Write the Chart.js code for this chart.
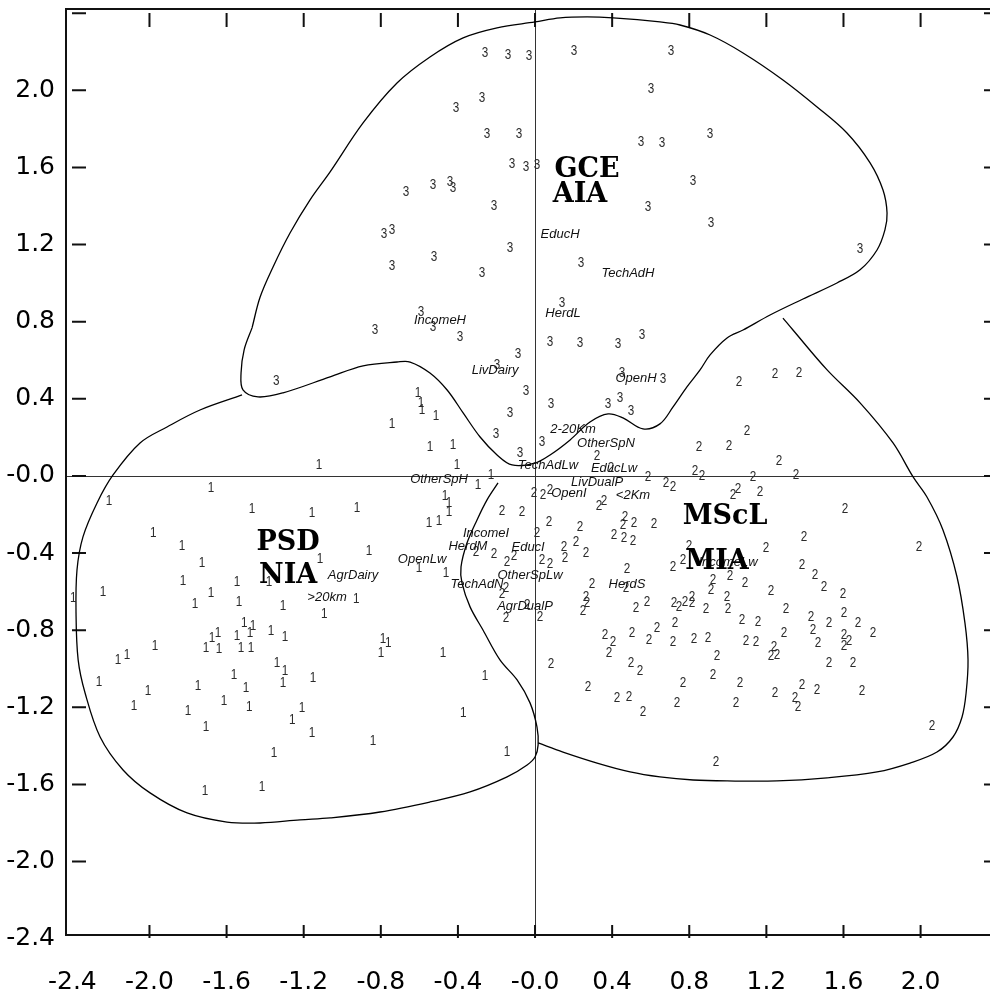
<!DOCTYPE html>
<html>
<head>
<meta charset="utf-8">
<script src="https://cdn.jsdelivr.net/npm/chart.js@4.4.0/dist/chart.umd.min.js"></script>
<style>
html, body { margin: 0; padding: 0; background: #fff; overflow: hidden; }
canvas { display: block; }
</style>
</head>
<body>
<canvas id="biplot" width="990" height="994"></canvas>
<script>
// axis ranges and ticks
const xMin = -2.433, xMax = 2.36;
const yMin = -2.381, yMax = 2.422;
const xTickValues = [-2.4, -2.0, -1.6, -1.2, -0.8, -0.4, 0, 0.4, 0.8, 1.2, 1.6, 2.0];
const xTickLabels = ['-2.4', '-2.0', '-1.6', '-1.2', '-0.8', '-0.4', '-0.0', '0.4', '0.8', '1.2', '1.6', '2.0'];
const yTickValues = [-2.4, -2.0, -1.6, -1.2, -0.8, -0.4, 0, 0.4, 0.8, 1.2, 1.6, 2.0, 2.4];
const yTickLabels = ['-2.4', '-2.0', '-1.6', '-1.2', '-0.8', '-0.4', '-0.0', '0.4', '0.8', '1.2', '1.6', '2.0', ''];
const xTickMarks = [-2.0, -1.6, -1.2, -0.8, -0.4, 0, 0.4, 0.8, 1.2, 1.6, 2.0];
const yTickMarks = [-2.0, -1.6, -1.2, -0.8, -0.4, 0, 0.4, 0.8, 1.2, 1.6, 2.0, 2.4];

// group 3 (GCE / AIA)
const group3Points = [
  [-0.259,2.194],[-0.140,2.184],[-0.031,2.179],[0.202,2.204],[0.705,2.204],[-0.275,1.961],[-0.410,1.909],
  [0.602,2.007],[-0.249,1.774],[-0.083,1.774],[0.550,1.732],[0.659,1.727],[0.908,1.774],[-0.119,1.618],
  [-0.047,1.603],[0.010,1.613],[0.820,1.530],[-0.669,1.473],[-0.529,1.509],[-0.441,1.525],[-0.425,1.494],
  [-0.213,1.400],[0.586,1.395],[0.913,1.312],[-0.783,1.255],[-0.742,1.276],[-0.130,1.183],[1.686,1.177],
  [-0.742,1.089],[-0.524,1.136],[0.239,1.105],[-0.275,1.053],[0.140,0.897],[-0.591,0.851],[-0.830,0.757],
  [-0.529,0.773],[-0.389,0.721],[0.078,0.695],[0.233,0.690],[0.431,0.685],[0.555,0.731],[-0.088,0.633],
  [-0.197,0.576],[0.451,0.534],[0.664,0.503],[-1.343,0.493],[-0.047,0.441],[0.083,0.373],[0.379,0.373],
  [0.441,0.405],[0.498,0.337],[-0.130,0.327],[-0.202,0.218],[0.036,0.176],[-0.078,0.119]
];

// group 1 (PSD / NIA)
const group1Points = [
  [-1.120,0.057],[-1.681,-0.062],[-2.210,-0.130],[-1.468,-0.171],[-1.157,-0.192],[-1.981,-0.296],[-1.831,-0.363],
  [-1.727,-0.451],[-1.115,-0.431],[-1.826,-0.545],[-1.546,-0.550],[-1.380,-0.550],[-2.241,-0.602],[-2.396,-0.633],
  [-1.681,-0.607],[-1.764,-0.664],[-1.535,-0.654],[-1.307,-0.674],[-1.094,-0.716],[-0.928,-0.638],[-1.509,-0.762],
  [-1.463,-0.778],[-1.369,-0.804],[-1.297,-0.835],[-1.546,-0.830],[-1.478,-0.814],[-1.675,-0.840],[-1.644,-0.814],
  [-1.971,-0.882],[-1.707,-0.892],[-1.639,-0.897],[-1.525,-0.892],[-1.473,-0.892],[-2.163,-0.954],[-2.116,-0.928],
  [-0.788,-0.845],[-0.762,-0.866],[-0.799,-0.918],[-2.262,-1.069],[-2.007,-1.115],[-1.748,-1.089],[-1.561,-1.032],
  [-1.338,-0.970],[-1.297,-1.011],[-1.307,-1.074],[-1.152,-1.048],[-1.499,-1.100],[-2.080,-1.193],[-1.800,-1.219],
  [-1.613,-1.167],[-1.483,-1.198],[-1.209,-1.203],[-1.260,-1.266],[-1.707,-1.302],[-1.157,-1.333],[-0.840,-1.375],
  [-1.354,-1.437],[-1.712,-1.634],[-1.416,-1.613],
  [-0.607,0.431],[-0.591,0.379],[-0.586,0.342],[-0.514,0.311],[-0.742,0.270],[-0.545,0.150],[-0.425,0.161],
  [-0.405,0.057],[-0.228,0.005],[-0.296,-0.047],[-0.467,-0.104],[-0.446,-0.140],[-0.446,-0.187],[-0.923,-0.166],
  [-0.550,-0.244],[-0.498,-0.233],[-0.861,-0.389],[-0.602,-0.477],[-0.462,-0.503],[-0.477,-0.918],[-0.259,-1.037],
  [-0.373,-1.229],[-0.145,-1.432]
];

// group 2 (MScL / MIA)
const group2Points = [
  [1.058,0.488],[1.245,0.529],[1.369,0.534],[1.100,0.233],[0.851,0.150],[1.006,0.156],[0.322,0.104],[1.266,0.078],
  [0.394,0.041],[0.586,-0.005],[0.830,0.026],[0.866,0.000],[1.131,-0.005],[1.354,0.005],[0.679,-0.036],[0.716,-0.057],
  [-0.005,-0.088],[0.041,-0.099],[0.078,-0.073],[0.332,-0.156],[0.358,-0.130],[1.027,-0.099],[1.053,-0.067],
  [1.167,-0.083],[1.608,-0.171],[-0.171,-0.182],[-0.067,-0.187],[0.073,-0.239],[0.233,-0.265],[0.467,-0.213],
  [0.456,-0.254],[0.514,-0.244],[0.617,-0.249],[0.010,-0.296],[0.410,-0.306],[0.462,-0.322],[0.508,-0.337],
  [1.395,-0.316],[0.213,-0.342],[0.150,-0.368],[0.156,-0.425],[0.265,-0.399],[0.799,-0.363],[1.198,-0.373],
  [1.992,-0.368],[-0.306,-0.394],[-0.213,-0.405],[-0.109,-0.415],[-0.145,-0.446],[0.036,-0.436],[0.078,-0.456],
  [0.768,-0.436],[0.716,-0.472],[1.385,-0.462],[0.477,-0.482],[1.011,-0.519],[1.452,-0.514],[0.923,-0.539],
  [0.913,-0.591],[1.089,-0.555],[0.296,-0.560],[0.472,-0.581],[1.499,-0.576],[1.598,-0.612],[1.224,-0.596],
  [-0.150,-0.581],[-0.171,-0.612],[0.265,-0.628],[0.270,-0.659],[0.249,-0.700],[-0.041,-0.669],[0.721,-0.659],
  [0.747,-0.679],[0.778,-0.654],[0.814,-0.628],[0.814,-0.659],[0.887,-0.690],[0.996,-0.628],[1.001,-0.690],
  [0.581,-0.654],[0.524,-0.685],[1.302,-0.690],[-0.150,-0.737],[0.026,-0.731],[1.603,-0.711],[1.432,-0.731],
  [1.442,-0.799],[1.525,-0.762],[1.675,-0.762],[0.726,-0.762],[1.074,-0.747],[1.157,-0.757],[0.633,-0.788],
  [0.591,-0.851],[0.503,-0.814],[0.363,-0.825],[0.405,-0.861],[0.384,-0.918],[1.753,-0.814],[1.292,-0.814],
  [0.716,-0.861],[0.825,-0.845],[0.897,-0.840],[1.094,-0.856],[1.146,-0.861],[1.468,-0.866],[1.603,-0.825],
  [1.629,-0.856],[1.603,-0.882],[0.944,-0.934],[1.240,-0.887],[1.224,-0.934],[1.255,-0.928],[1.525,-0.970],
  [1.649,-0.970],[0.498,-0.970],[0.545,-1.011],[0.083,-0.975],[0.923,-1.032],[0.768,-1.074],[1.063,-1.074],
  [1.385,-1.084],[1.463,-1.110],[1.245,-1.126],[1.696,-1.115],[1.348,-1.151],[1.364,-1.198],[0.275,-1.094],
  [0.425,-1.151],[0.488,-1.146],[0.560,-1.224],[0.736,-1.177],[1.043,-1.177],[2.059,-1.297],[0.939,-1.483]
];

// variable labels
const variableNames = ['EducH','TechAdH','HerdL','IncomeH','LivDairy','OpenH','2-20Km','OtherSpN','TechAdLw',
  'EducLw','OtherSpH','LivDualP','OpenI','<2Km','IncomeI','HerdM','EducI','OpenLw','OtherSpLw','TechAdN',
  'AgrDualP','AgrDairy','>20km','HerdS','IncomeLw'];
const variablePoints = [
  [0.130,1.255],[0.482,1.053],[0.145,0.845],[-0.493,0.809],[-0.207,0.545],[0.524,0.508],[0.197,0.239],
  [0.368,0.171],[0.067,0.057],[0.410,0.041],[-0.498,-0.016],[0.322,-0.031],[0.176,-0.093],[0.508,-0.099],
  [-0.254,-0.296],[-0.348,-0.363],[-0.036,-0.368],[-0.586,-0.431],[-0.026,-0.514],[-0.301,-0.565],
  [-0.052,-0.679],[-0.944,-0.514],[-1.079,-0.628],[0.477,-0.560],[1.001,-0.446]
];

// cluster names
const regionNames = ['GCE','AIA','PSD','NIA','MScL','MIA'];
const regionPoints = [[0.270,1.587],[0.233,1.457],[-1.281,-0.348],[-1.281,-0.519],[0.986,-0.213],[0.944,-0.446]];

// boundaries
const contourA = [
  [-1.468,0.768],[-1.509,0.654],[-1.525,0.534],[-1.515,0.446],[-1.437,0.410],[-1.307,0.431],[-1.063,0.514],
  [-0.892,0.571],[-0.716,0.591],[-0.648,0.591],[-0.545,0.534],[-0.456,0.446],[-0.373,0.327],[-0.285,0.202],
  [-0.197,0.109],[-0.119,0.057],[0,0.067],[0.078,0.109],[0.182,0.187],[0.285,0.280],[0.379,0.322],[0.456,0.301],
  [0.560,0.244],[0.648,0.270],[0.716,0.358],[0.788,0.462],[0.856,0.550],[0.908,0.628],[0.996,0.716],[1.079,0.757],
  [1.219,0.835],[1.390,0.918],[1.566,1.001],[1.686,1.069],[1.774,1.172],[1.815,1.276],[1.826,1.364],[1.805,1.483],
  [1.738,1.624],[1.618,1.779],[1.463,1.914],[1.286,2.054],[1.079,2.194],[0.908,2.287],[0.752,2.339],[0.648,2.355],
  [0.405,2.376],[0.270,2.381],[0.130,2.376],[0,2.355],[-0.197,2.324],[-0.373,2.272],[-0.545,2.173],[-0.716,2.038],
  [-0.892,1.831],[-1.063,1.577],[-1.167,1.432],[-1.271,1.260],[-1.359,1.084],[-1.426,0.928],[-1.468,0.768]
];
const contourB = [
  [-1.520,0.420],[-1.738,0.342],[-1.909,0.254],[-2.049,0.171],[-2.189,0.005],[-2.272,-0.140],[-2.345,-0.316],
  [-2.376,-0.488],[-2.381,-0.711],[-2.370,-0.954],[-2.334,-1.126],[-2.256,-1.354],[-2.137,-1.525],[-1.997,-1.644],
  [-1.805,-1.748],[-1.598,-1.795],[-1.426,-1.800],[-1.219,-1.784],[-1.063,-1.774],[-0.804,-1.743],[-0.545,-1.691],
  [-0.337,-1.639],[-0.145,-1.561],[-0.041,-1.499],[0,-1.458],[0.016,-1.395],[0.010,-1.302],[-0.026,-1.177],
  [-0.093,-1.058],[-0.182,-0.954],[-0.270,-0.799],[-0.337,-0.679],[-0.379,-0.555],[-0.384,-0.472],[-0.353,-0.348],
  [-0.301,-0.228],[-0.249,-0.124],[-0.192,-0.036]
];
const contourC = [
  [0.016,-1.385],[0.145,-1.432],[0.322,-1.489],[0.493,-1.535],[0.648,-1.561],[0.820,-1.577],[0.996,-1.582],
  [1.255,-1.582],[1.515,-1.566],[1.774,-1.535],[1.945,-1.489],[2.085,-1.432],[2.168,-1.354],[2.215,-1.250],
  [2.236,-1.126],[2.246,-0.954],[2.230,-0.762],[2.189,-0.524],[2.116,-0.280],[2.033,-0.109],[1.961,-0.005],
  [1.857,0.171],[1.686,0.379],[1.515,0.550],[1.338,0.757],[1.286,0.819]
];

const toXY = arr => arr.map(p => ({ x: p[0], y: p[1] }));

function contourSet(points) {
    return {
        type: 'line',
        data: toXY(points),
        borderColor: '#000',
        borderWidth: 1.3,
        pointRadius: 0,
        tension: 0.35,
        fill: false
    };
}

function textSet(points, marker) {
    return { data: toXY(points), pointRadius: 0, pointHoverRadius: 0, marker: marker };
}

// frame, cross lines and inner tick marks
const framePlugin = {
    id: 'frame',
    beforeDatasetsDraw(chart) {
        const { ctx, chartArea: a, scales: { x, y } } = chart;
        ctx.save();
        ctx.strokeStyle = '#333';
        ctx.lineWidth = 1;
        const x0 = Math.round(x.getPixelForValue(0)) + 0.5;
        const y0 = Math.round(y.getPixelForValue(0)) + 0.5;
        ctx.beginPath();
        ctx.moveTo(x0, a.top); ctx.lineTo(x0, a.bottom);
        ctx.moveTo(a.left, y0); ctx.lineTo(a.right, y0);
        ctx.stroke();

        ctx.strokeStyle = '#111';
        ctx.lineWidth = 2;
        ctx.beginPath();
        ctx.moveTo(a.right, a.top); ctx.lineTo(a.left, a.top);
        ctx.lineTo(a.left, a.bottom); ctx.lineTo(a.right, a.bottom);
        xTickMarks.forEach(v => {
            const p = x.getPixelForValue(v);
            ctx.moveTo(p, a.bottom + 3); ctx.lineTo(p, a.bottom - 10);
            ctx.moveTo(p, a.top + 4); ctx.lineTo(p, a.top + 18);
        });
        yTickMarks.forEach(v => {
            const p = y.getPixelForValue(v);
            ctx.moveTo(a.left + 6, p); ctx.lineTo(a.left + 20, p);
            ctx.moveTo(a.right - 6, p); ctx.lineTo(a.right, p);
        });
        ctx.stroke();
        ctx.restore();
    }
};

// draws the digits / names at each element of the text datasets
const textPlugin = {
    id: 'textMarks',
    afterDatasetsDraw(chart) {
        const ctx = chart.ctx;
        chart.data.datasets.forEach((ds, i) => {
            if (!ds.marker) return;
            const m = ds.marker;
            const meta = chart.getDatasetMeta(i);
            ctx.save();
            ctx.font = m.font;
            ctx.fillStyle = m.color;
            ctx.textAlign = 'center';
            ctx.textBaseline = 'middle';
            meta.data.forEach((el, j) => {
                const txt = m.texts ? m.texts[j] : m.text;
                ctx.save();
                ctx.translate(el.x, el.y);
                ctx.scale(m.scaleX || 1, 1);
                ctx.fillText(txt, 0, 0);
                ctx.restore();
            });
            ctx.restore();
        });
    }
};

const digitFont = '15px "Liberation Sans", Arial, sans-serif';

new Chart(document.getElementById('biplot'), {
    type: 'scatter',
    data: {
        datasets: [
            contourSet(contourA),
            contourSet(contourB),
            contourSet(contourC),
            textSet(group1Points, { text: '1', font: digitFont, color: '#2a2a2a', scaleX: 0.78 }),
            textSet(group2Points, { text: '2', font: digitFont, color: '#2a2a2a', scaleX: 0.78 }),
            textSet(group3Points, { text: '3', font: digitFont, color: '#2a2a2a', scaleX: 0.78 }),
            textSet(variablePoints, { texts: variableNames, font: 'italic 13px "Liberation Sans", Arial, sans-serif', color: '#111' }),
            textSet(regionPoints, { texts: regionNames, font: 'bold 27px "DejaVu Serif", serif', color: '#000' })
        ]
    },
    options: {
        responsive: false,
        animation: false,
        events: [],
        layout: { padding: { top: 9, right: 0, left: 0, bottom: 0 } },
        plugins: { legend: { display: false }, tooltip: { enabled: false } },
        scales: {
            x: {
                type: 'linear', min: xMin, max: xMax, position: 'bottom',
                grid: { display: false, drawTicks: false },
                border: { display: false },
                afterBuildTicks: s => { s.ticks = xTickValues.map(v => ({ value: v })); },
                afterFit: s => { s.height = 59; s.paddingLeft = 0; s.paddingRight = 0; },
                ticks: {
                    autoSkip: false, maxRotation: 0, padding: 32, color: '#000',
                    font: { family: 'DejaVu Sans', size: 25 },
                    callback: (v, i) => xTickLabels[i]
                }
            },
            y: {
                type: 'linear', min: yMin, max: yMax,
                grid: { display: false, drawTicks: false },
                border: { display: false },
                afterBuildTicks: s => { s.ticks = yTickValues.map(v => ({ value: v })); },
                afterFit: s => { s.width = 66; s.paddingTop = 0; s.paddingBottom = 0; },
                ticks: {
                    autoSkip: false, padding: 11, color: '#000',
                    font: { family: 'DejaVu Sans', size: 25 },
                    callback: (v, i) => yTickLabels[i]
                }
            }
        }
    },
    plugins: [framePlugin, textPlugin]
});
</script>
</body>
</html>
